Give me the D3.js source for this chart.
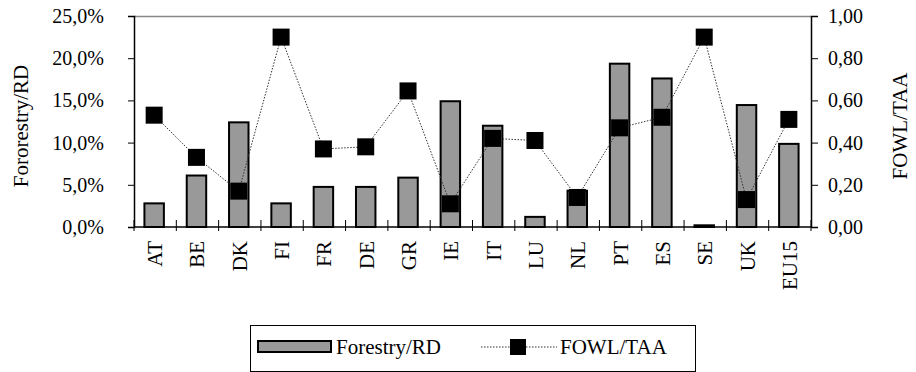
<!DOCTYPE html>
<html>
<head>
<meta charset="utf-8">
<script src="https://cdn.jsdelivr.net/npm/d3@7"></script>
<style>
  body { margin: 0; background: #fff; }
  svg text { font-family: "Liberation Serif", "Times New Roman", Times, "DejaVu Serif", serif !important; fill: #000; }
</style>
</head>
<body>
<div id="chart"></div>
<script>
var countries = ["AT", "BE", "DK", "FI", "FR", "DE", "GR", "IE", "IT", "LU", "NL", "PT", "ES", "SE", "UK", "EU15"];
var forestryRD = [2.8, 6.1, 12.4, 2.8, 4.75, 4.75, 5.85, 14.9, 12.0, 1.2, 4.3, 19.35, 17.6, 0.2, 14.45, 9.85];
var fowlTAA = [0.53, 0.33, 0.17, 0.90, 0.37, 0.38, 0.645, 0.11, 0.42, 0.41, 0.14, 0.47, 0.52, 0.90, 0.13, 0.51];
var leftTicks = [0, 5, 10, 15, 20, 25];
var rightTicks = [0, 0.2, 0.4, 0.6, 0.8, 1.0];

function init() {
    var W = 916, H = 372;
    var plot = { left: 134, right: 811, top: 16, bottom: 227 };

    var svg = d3.select("#chart").append("svg")
                .attr("width", W)
                .attr("height", H);

    var xScale = d3.scaleBand()
                   .domain(countries)
                   .range([plot.left, plot.right]);

    var yLeft = d3.scaleLinear().domain([0, 25]).range([plot.bottom, plot.top]);
    var yRight = d3.scaleLinear().domain([0, 1]).range([plot.bottom, plot.top]);

    var fmt1 = function(v) { return d3.format(".1f")(v).replace(".", ",") + "%"; };
    var fmt2 = function(v) { return d3.format(".2f")(v).replace(".", ","); };

    // top frame line
    svg.append("line")
       .attr("x1", plot.left).attr("x2", plot.right)
       .attr("y1", plot.top + 0.5).attr("y2", plot.top + 0.5)
       .attr("stroke", "#888").attr("stroke-width", 1.5);

    // bars
    var bw = xScale.bandwidth() * 0.46;
    svg.selectAll("rect.bar")
       .data(countries)
       .enter().append("rect")
       .attr("class", "bar")
       .attr("x", (d, i) => xScale(d) + xScale.bandwidth() / 2 - bw / 2 - 1)
       .attr("y", (d, i) => yLeft(forestryRD[i]))
       .attr("width", bw)
       .attr("height", (d, i) => plot.bottom - yLeft(forestryRD[i]))
       .attr("fill", "#999999")
       .attr("stroke", "#000")
       .attr("stroke-width", 2);

    // left axis
    var leftAxis = svg.append("g")
       .attr("transform", "translate(" + plot.left + ",0)")
       .call(d3.axisLeft(yLeft).tickValues(leftTicks).tickFormat(fmt1).tickSize(6).tickPadding(24));
    leftAxis.attr("font-family", null);
    leftAxis.select(".domain").attr("stroke", "#000").attr("stroke-width", 1.5);
    leftAxis.selectAll("text").style("font-size", "20px");

    // right axis
    var rightAxis = svg.append("g")
       .attr("transform", "translate(" + plot.right + ",0)")
       .call(d3.axisRight(yRight).tickValues(rightTicks).tickFormat(fmt2).tickSize(7).tickPadding(10));
    rightAxis.attr("font-family", null);
    rightAxis.select(".domain").attr("stroke", "#000").attr("stroke-width", 1.5);
    rightAxis.selectAll("text").style("font-size", "20px");

    // bottom axis: ticks at category boundaries crossing the line
    svg.append("line")
       .attr("x1", plot.left).attr("x2", plot.right)
       .attr("y1", plot.bottom).attr("y2", plot.bottom)
       .attr("stroke", "#000").attr("stroke-width", 1.5);
    var bounds = countries.map(d => xScale(d)).concat([plot.right]);
    svg.selectAll("line.xtick")
       .data(bounds)
       .enter().append("line")
       .attr("class", "xtick")
       .attr("x1", d => d).attr("x2", d => d)
       .attr("y1", plot.bottom - 7).attr("y2", plot.bottom + 4)
       .attr("stroke", "#000").attr("stroke-width", 1);

    svg.selectAll("text.xlab")
       .data(countries)
       .enter().append("text")
       .attr("class", "xlab")
       .attr("transform", d => "translate(" + (xScale(d) + xScale.bandwidth() / 2 + 7) + "," + (plot.bottom + 14) + ") rotate(-90)")
       .attr("text-anchor", "end")
       .style("font-size", "21px")
       .text(d => d);

    // line series
    var line = d3.line()
                 .x((d, i) => xScale(countries[i]) + xScale.bandwidth() / 2 - 1)
                 .y(d => yRight(d));
    svg.append("path")
       .datum(fowlTAA)
       .attr("d", line)
       .attr("fill", "none")
       .attr("stroke", "#333")
       .attr("stroke-width", 1)
       .attr("stroke-dasharray", "1.5,1.5");

    var ms = 17;
    svg.selectAll("rect.mark")
       .data(fowlTAA)
       .enter().append("rect")
       .attr("class", "mark")
       .attr("x", (d, i) => xScale(countries[i]) + xScale.bandwidth() / 2 - 1 - ms / 2)
       .attr("y", d => yRight(d) - ms / 2)
       .attr("width", ms).attr("height", ms)
       .attr("fill", "#000");

    // axis titles
    svg.append("text")
       .attr("transform", "translate(28,126) rotate(-90)")
       .attr("text-anchor", "middle")
       .style("font-size", "21px")
       .text("Fororestry/RD");
    svg.append("text")
       .attr("transform", "translate(907,126) rotate(-90)")
       .attr("text-anchor", "middle")
       .style("font-size", "21px")
       .text("FOWL/TAA");

    // legend
    var lg = svg.append("g");
    lg.append("rect")
      .attr("x", 250.5).attr("y", 325.5).attr("width", 445).attr("height", 46)
      .attr("fill", "#fff").attr("stroke", "#000").attr("stroke-width", 1);
    lg.append("rect")
      .attr("x", 258).attr("y", 341).attr("width", 73).attr("height", 11)
      .attr("fill", "#999999").attr("stroke", "#000").attr("stroke-width", 2);
    lg.append("text")
      .attr("x", 336).attr("y", 354)
      .style("font-size", "21px")
      .text("Forestry/RD");
    lg.append("line")
      .attr("x1", 481).attr("x2", 557).attr("y1", 347).attr("y2", 347)
      .attr("stroke", "#333").attr("stroke-width", 1).attr("stroke-dasharray", "1.5,1.5");
    lg.append("rect")
      .attr("x", 510).attr("y", 339).attr("width", 16).attr("height", 16)
      .attr("fill", "#000");
    lg.append("text")
      .attr("x", 560).attr("y", 354)
      .style("font-size", "21px")
      .text("FOWL/TAA");
}

window.onload = init;
</script>
</body>
</html>
